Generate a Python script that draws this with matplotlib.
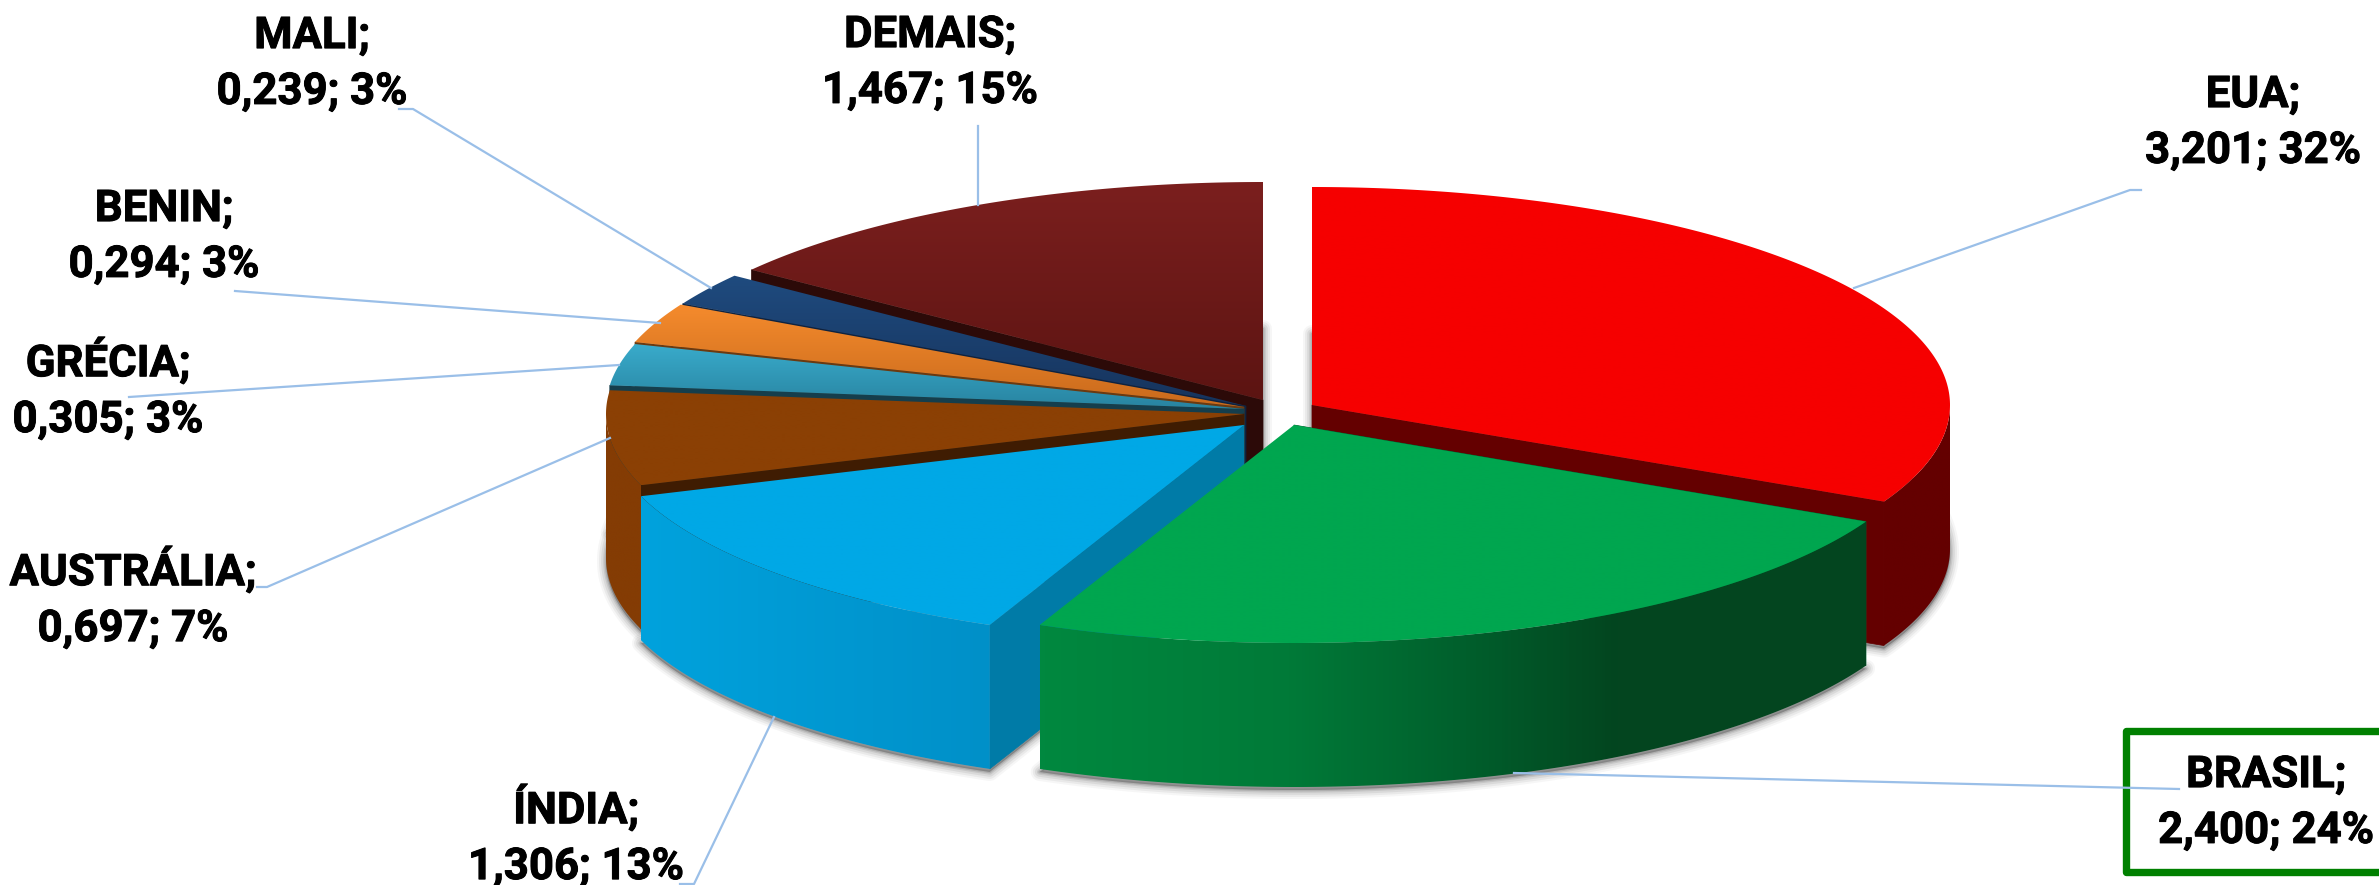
import numpy as np
import matplotlib
matplotlib.use('Agg')
import matplotlib.pyplot as plt
import matplotlib.patheffects as pe
from matplotlib.colors import LinearSegmentedColormap
from matplotlib.patches import Polygon, Rectangle

plt.rcParams['font.family'] = ['Roboto', 'DejaVu Sans']

# Data
names = ['EUA', 'BRASIL', 'ÍNDIA', 'AUSTRÁLIA', 'GRÉCIA', 'BENIN', 'MALI', 'DEMAIS']
values = [3.201, 2.400, 1.306, 0.697, 0.305, 0.294, 0.239, 1.467]
percents = [32, 24, 13, 7, 3, 3, 3, 15]

# Exploded centre of each slice, in pixels
centres = [(1312, 405), (1294, 425), (1244, 425), (1244, 414),
           (1244, 409), (1244, 407), (1246, 406), (1263, 400)]
rx, ry, depth = 638, 218, 144

top_colors = [['#f60000', '#f60000'], ['#00a64f', '#00a64f'], ['#00a8e6', '#00a8e6'],
              ['#8b4004', '#8b4004'], ['#39abcb', '#2883a0'], ['#f58b2d', '#c96a1c'],
              ['#1f4b7f', '#16335c'], ['#7b1f1e', '#5c1412']]
side_colors = [['#640000', '#640000'],
               [(0, '#00883f'), (0.3, '#007a38'), (0.5, '#00612d'), (0.7, '#03451f'), (1, '#03451f')],
               ['#00a2dd', '#0090c8'], ['#843c04', '#843c04'],
               ['#2883a0', '#2883a0'], ['#c96a1c', '#c96a1c'],
               ['#16335c', '#16335c'], ['#5c1412', '#5c1412']]
wall_colors = ['#640000', '#00602d', '#007ba7', '#3f1c02', '#153e4c', '#6b3a10', '#0e2340', '#2c0a08']

# Label centres (two lines) and leader lines
label_pos = [(2253, 123), (2266, 803), (576, 836), (133, 598),
             (108, 389), (164, 237), (312, 64), (930, 63)]
leaders = [[(2141, 190), (2130, 190), (1854, 288)],
           [(2179, 789), (1514, 773)],
           [(680, 884), (694, 884), (774, 717)],
           [(257, 587), (267, 587), (610, 438)],
           [(129, 397), (619, 365)],
           [(235, 291), (660, 323)],
           [(399, 109), (413, 109), (711, 288)],
           [(978, 126), (978, 205)]]

edges = np.concatenate(([0], np.cumsum(values))) / sum(values) * 360


def rim(c, a0, a1, dy=0):
    t = np.radians(np.linspace(a0, a1, max(int(abs(a1 - a0)) * 2, 2)))
    return np.column_stack((c[0] + rx * np.sin(t), c[1] - ry * np.cos(t) + dy))


def gradient_fill(ax, pts, colors, horizontal=False, z=2):
    cmap = LinearSegmentedColormap.from_list('g', colors)
    x0, y0 = pts.min(axis=0)
    x1, y1 = pts.max(axis=0)
    g = np.linspace(0, 1, 256)
    g = g.reshape(1, -1) if horizontal else g.reshape(-1, 1)
    patch = Polygon(pts, closed=True, fc='none', ec='none', transform=ax.transData)
    ax.add_patch(patch)
    im = ax.imshow(g, cmap=cmap, extent=(x0, x1, y1, y0), aspect='auto',
                   vmin=0, vmax=1, zorder=z, interpolation='bilinear')
    im.set_clip_path(patch)


fig = plt.figure(figsize=(23.79, 8.85), dpi=100)
ax = fig.add_axes([0, 0, 1, 1])

# back slices first, green last
order = [7, 6, 5, 4, 3, 0, 2, 1]
z = 2
for i in order:
    c = centres[i]
    a0, a1 = edges[i], edges[i + 1]
    top = np.vstack(([c], rim(c, a0, a1)))

    # soft shadow of the base
    base = top + [0, depth + 3]
    for lw, al in zip([13, 10, 7, 4, 2], [0.05, 0.08, 0.1, 0.14, 0.2]):
        ax.add_patch(Polygon(base, closed=True, fc='#555555', ec='#555555', lw=lw,
                             alpha=al, joinstyle='round', zorder=z))
    z += 1

    # cut wall on the edge that faces the viewer
    wall_angle = a1 if a1 <= 180 else a0
    end = rim(c, wall_angle, wall_angle)[0]
    wall = np.array([c, end, end + [0, depth], np.array(c) + [0, depth]])
    ax.add_patch(Polygon(wall, closed=True, fc=wall_colors[i], ec=wall_colors[i], lw=0.5, zorder=z))
    z += 1

    # outer side, only the part facing the viewer
    s0, s1 = max(a0, 90), min(a1, 270)
    if s1 > s0:
        front = rim(c, s0, s1)
        side = np.vstack((front, front[::-1] + [0, depth]))
        gradient_fill(ax, side, side_colors[i], horizontal=True, z=z)
        z += 1

    gradient_fill(ax, top, top_colors[i], z=z)
    z += 1

# green box around BRASIL, right side runs off the picture
ax.add_patch(Rectangle((2126, 731), 300, 141, fc='white', ec='#008000', lw=5.3,
                       joinstyle='round', zorder=z))
z += 1

for i, name in enumerate(names):
    val = f'{values[i]:.3f}'.replace('.', ',')
    ax.text(label_pos[i][0], label_pos[i][1], f'{name};\n{val}; {percents[i]}%',
            ha='center', va='center', ma='center', fontsize=31.5, fontweight='bold',
            color='black', linespacing=1.42, zorder=z + 1,
            path_effects=[pe.withStroke(linewidth=0.7, foreground='black')])
    line = np.array(leaders[i])
    ax.plot(line[:, 0], line[:, 1], color='#9abfe8', lw=1.6, zorder=z)

ax.set_xlim(0, 2379)
ax.set_ylim(885, 0)
ax.axis('off')
fig.savefig('out.png', dpi=100)
